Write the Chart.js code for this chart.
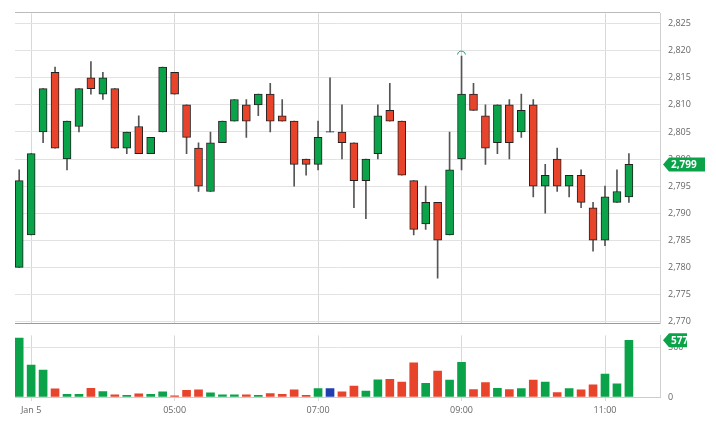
<!DOCTYPE html>
<html><head><meta charset="utf-8">
<script src="https://cdn.jsdelivr.net/npm/chart.js@4.4.0/dist/chart.umd.min.js"></script>
<style>
body{margin:0;background:#fff;width:716px;height:437px;overflow:hidden;font-family:"Open Sans",sans-serif}
#c1{position:absolute;left:0;top:0}
#c2{position:absolute;left:0;top:322px}
#topline{position:absolute;left:15px;top:12px;width:645px;height:1px;background:#bbb}
</style></head><body>
<div id="topline"></div>
<canvas id="c1" width="716" height="337"></canvas>
<canvas id="c2" width="716" height="115"></canvas>
<script>
const opens  = [2780,2786,2805,2816,2800,2806,2815,2812,2813,2802,2806,2801,2805,2816,2810,2802,2794,2803,2807,2810,2810,2812,2808,2807,2800,2799,2805,2805,2803,2796,2801,2809,2807,2796,2788,2792,2786,2800,2812,2808,2803,2810,2805,2810,2795,2800,2795,2797,2791,2785,2792,2793];
const closes = [2796,2801,2813,2802,2807,2813,2813,2815,2802,2805,2801,2804,2817,2812,2804,2795,2803,2807,2811,2807,2812,2807,2807,2799,2799,2804,2805,2803,2796,2800,2808,2807,2797,2787,2792,2785,2798,2812,2809,2802,2810,2803,2809,2795,2797,2795,2797,2792,2785,2793,2794,2799];
const highs  = [2798,2801,2813,2817,2807,2813,2818,2816,2813,2805,2808,2804,2817,2816,2810,2803,2805,2807,2811,2811,2812,2814,2811,2807,2800,2807,2815,2810,2803,2800,2810,2814,2807,2796,2795,2792,2805,2819,2814,2810,2810,2811,2812,2811,2799,2802,2797,2798,2792,2795,2798,2801];
const lows   = [2780,2786,2803,2802,2798,2805,2812,2811,2802,2801,2801,2801,2805,2812,2801,2794,2794,2803,2807,2804,2808,2805,2807,2795,2797,2798,2805,2800,2791,2789,2800,2807,2797,2786,2787,2778,2786,2798,2809,2799,2801,2800,2804,2793,2790,2794,2793,2791,2783,2784,2792,2792];
const volumes= [599,326,273,82,26,26,89,56,23,16,33,26,53,13,69,72,43,23,23,23,16,36,26,72,16,86,86,53,112,59,174,181,151,349,138,263,171,352,76,148,89,76,86,171,151,46,86,72,125,234,135,577];
const timeTickIdx = [1,13,25,37,49];
const timeTickLabels = ['Jan 5','05:00','07:00','09:00','11:00'];
const priceTicks = [2770,2775,2780,2785,2790,2795,2800,2805,2810,2815,2820,2825];

const GREEN='#0aa34a', RED='#e8432b', BLUE='#1f3fb0';
const colorOf = i => closes[i]>opens[i]?GREEN:(closes[i]<opens[i]?RED:BLUE);
const fmt = v => v.toLocaleString('en-US');
const xMin=-0.35, xMax=53.6;

const wickData = highs.map((h,i)=>({x:i,y:[lows[i],h]}));
const bodyData = opens.map((o,i)=>{const a=Math.min(o,closes[i]),b=Math.max(o,closes[i]);return {x:i,y:b-a<0.2?[a-0.05,a+0.05]:[a,b]};});

const tagPlugin = (val, text, w) => ({
  id:'tag'+text,
  afterDraw(ch){
    const y=ch.scales.y.getPixelForValue(val), x=ch.chartArea.right+3, c=ch.ctx;
    c.save();c.fillStyle=GREEN;c.beginPath();
    c.moveTo(x,y);c.lineTo(x+6,y-7);c.lineTo(x+w,y-7);c.lineTo(x+w,y+7);c.lineTo(x+6,y+7);c.closePath();c.fill();
    c.fillStyle='#fff';c.font='bold 10px "Open Sans"';c.textBaseline='middle';c.fillText(text,x+8,y+0.5);c.restore();
  }
});
const hump = {id:'hump',afterDraw(ch){
  const i=highs.indexOf(Math.max(...highs));
  const x=ch.scales.x.getPixelForValue(i), y=ch.scales.y.getPixelForValue(highs[i])-4, c=ch.ctx;
  c.save();c.strokeStyle='#2a9a6a';c.lineWidth=1;c.beginPath();c.arc(x,y+3,4,Math.PI*1.05,Math.PI*1.95);c.stroke();c.restore();
}};

const yAxisCommon = {
  position:'right',
  afterFit(s){s.width=56;},
  grid:{color:'#e2e2e2',drawTicks:false},
  border:{display:true,color:'#d0d0d0'},
  ticks:{color:'#666',font:{size:9,family:'Open Sans'},padding:8}
};

new Chart(document.getElementById('c1'),{
  type:'bar',
  data:{datasets:[
    {data:bodyData,backgroundColor:opens.map((o,i)=>colorOf(i)),borderColor:'#222',borderWidth:1,borderSkipped:false,barThickness:8,grouped:false,order:1},
    {data:wickData,backgroundColor:'#555',barThickness:1,grouped:false,order:2}
  ]},
  options:{
    responsive:false,animation:false,
    layout:{padding:{top:13,bottom:3,left:15,right:0}},
    plugins:{legend:{display:false},tooltip:{enabled:false}},
    scales:{
      x:{type:'linear',min:xMin,max:xMax,offset:false,
        afterBuildTicks(s){s.ticks=timeTickIdx.map(v=>({value:v}));},
        afterFit(s){s.height=0;},
        ticks:{display:false},grid:{color:'#d8d8d8',drawTicks:false,offset:false},border:{display:true,color:'#999'}},
      y:Object.assign({},yAxisCommon,{min:2769.6,max:2826.9,
        afterBuildTicks(s){s.ticks=priceTicks.map(v=>({value:v}));},
        ticks:Object.assign({},yAxisCommon.ticks,{callback:v=>fmt(v)})})
    }
  },
  plugins:[tagPlugin(closes[closes.length-1],fmt(closes[closes.length-1]),42),hump]
});

new Chart(document.getElementById('c2'),{
  type:'bar',
  data:{datasets:[{data:volumes.map((v,i)=>({x:i,y:v})),backgroundColor:opens.map((o,i)=>colorOf(i)),barThickness:8}]},
  options:{
    responsive:false,animation:false,
    layout:{padding:{top:4,bottom:15,left:15,right:0}},
    plugins:{legend:{display:false},tooltip:{enabled:false}},
    scales:{
      x:{type:'linear',min:xMin,max:xMax,offset:false,
        afterBuildTicks(s){s.ticks=timeTickIdx.map(v=>({value:v}));},
        afterFit(s){s.height=25;},
        ticks:{color:'#666',font:{size:9,family:'Open Sans'},padding:4,maxRotation:0,autoSkip:false,
          callback:v=>{const k=timeTickIdx.indexOf(v);return k>=0?timeTickLabels[k]:'';}},
        grid:{color:'#d8d8d8',tickLength:4,offset:false},border:{display:true,color:'#ccc'}},
      y:Object.assign({},yAxisCommon,{min:0,max:627,
        afterBuildTicks(s){s.ticks=[{value:0},{value:500}];},
        ticks:Object.assign({},yAxisCommon.ticks,{callback:v=>fmt(v)})})
    }
  },
  plugins:[tagPlugin(volumes[volumes.length-1],String(volumes[volumes.length-1]),24)]
});
</script></body></html>
